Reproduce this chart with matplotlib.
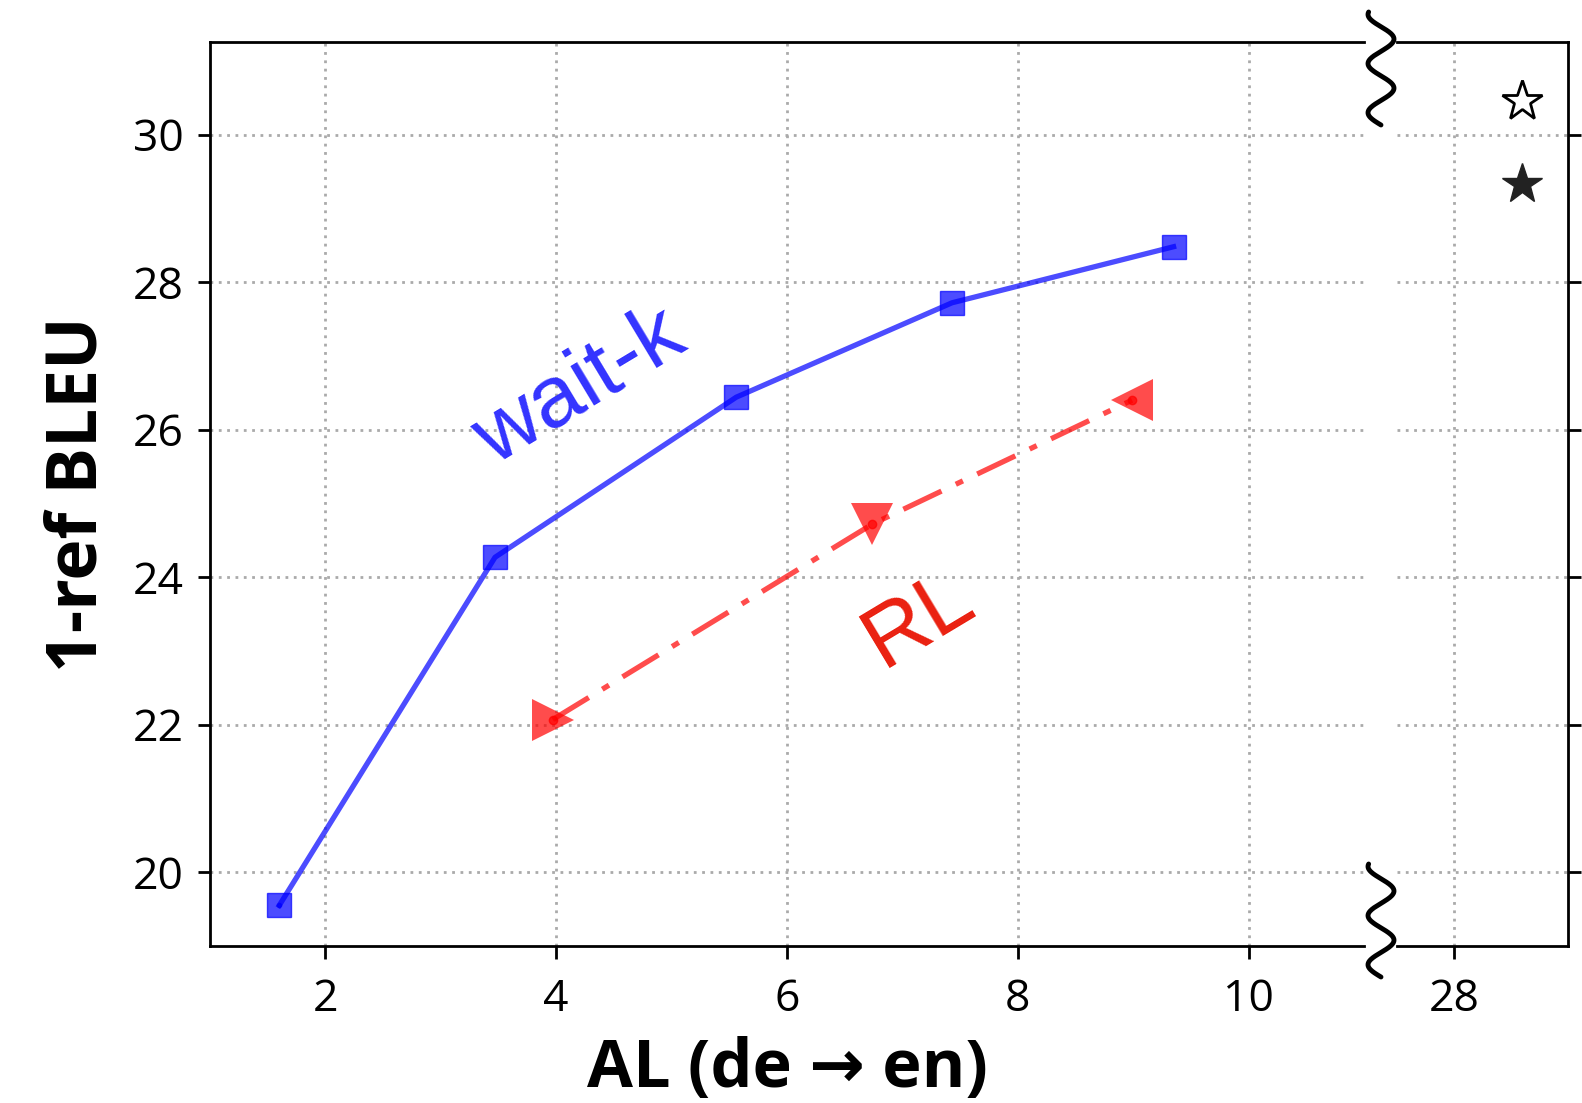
import numpy as np
import matplotlib
matplotlib.use("Agg")
import matplotlib.pyplot as plt
from matplotlib.lines import Line2D

# ---- data ----
waitk_al = [1.60, 3.47, 5.56, 7.43, 9.35]
waitk_bleu = [19.55, 24.27, 26.44, 27.72, 28.48]
rl_al = [3.97, 6.74, 8.99]
rl_bleu = [22.07, 24.72, 26.40]
rl_markers = ['>', 'v', '<']
star_al = [28.6, 28.6]
star_bleu = [30.46, 29.33]
left_xticks = [2, 4, 6, 8, 10]
right_xticks = [28]
yticks = [20, 22, 24, 26, 28, 30]

plt.rcParams['font.family'] = ['Open Sans', 'DejaVu Sans']

W, H = 1582, 1103
fig = plt.figure(figsize=(W / 100, H / 100), dpi=100)

L, R = 210 / W, 1364 / W
L2, R2 = 1397 / W, 1568 / W
B, T = 1 - 946 / H, 1 - 42.4 / H

ax1 = fig.add_axes([L, B, R - L, T - B])
ax2 = fig.add_axes([L2, B, R2 - L2, T - B])

ylim = (19.0, 31.25)
for ax in (ax1, ax2):
    ax.set_ylim(*ylim)
    ax.set_yticks(yticks)
    ax.grid(True, linestyle=(0, (1, 2)), color='#aaaaaa', linewidth=2.0)
    ax.set_axisbelow(True)
    for s in ax.spines.values():
        s.set_linewidth(2.0)
    ax.tick_params(axis='both', length=9, width=2.0, labelsize=32)
    ax.tick_params(axis='x', pad=14)
    ax.tick_params(axis='y', pad=10)

ax1.set_xlim(1.0, 11.0)
ax1.set_xticks(left_xticks)
ax1.spines['right'].set_visible(False)
ax1.tick_params(axis='y', left=True, right=False)

ax2.set_xlim(27.5, 29.0)
ax2.set_xticks(right_xticks)
ax2.spines['left'].set_visible(False)
ax2.yaxis.tick_right()
ax2.tick_params(axis='y', labelright=False, labelleft=False)

# wait-k
ax1.plot(waitk_al, waitk_bleu, color='blue', alpha=0.7, linewidth=3.8,
         marker='s', markersize=17, zorder=3)
ax1.plot(waitk_al[:1], waitk_bleu[:1], color='blue', alpha=0.7, marker='.',
         markersize=6, linestyle='none', zorder=4)

# RL
ax1.plot(rl_al, rl_bleu, color='red', alpha=0.7, linewidth=3.8,
         linestyle=(0, (8, 3, 1.5, 3)), marker='o', markersize=6, zorder=3)
for x, y, m in zip(rl_al, rl_bleu, rl_markers):
    ax1.plot([x], [y], marker=m, markersize=30, color='red', alpha=0.7,
             markeredgewidth=0, linestyle='none', zorder=3)

# stars
ax2.plot(star_al[:1], star_bleu[:1], marker='*', markersize=30,
         markerfacecolor='white', markeredgecolor='black',
         markeredgewidth=2.0, linestyle='none')
ax2.plot(star_al[1:], star_bleu[1:], marker='*', markersize=30,
         color='#222222', linestyle='none')

# labels on curves
ax1.text(4.21, 26.57, 'wait-k', color='#3333ff', fontsize=63,
         family=['Liberation Sans'], rotation=31, ha='center', va='center',
         rotation_mode='anchor')
ax1.text(7.15, 23.42, 'RL', color='#ea2010', fontsize=63,
         family=['Liberation Sans'], rotation=31, ha='center', va='center',
         rotation_mode='anchor')

# axis labels
fig.text(79 / W, 1 - 494 / H, '1-ref BLEU', rotation=90, fontsize=50,
         fontweight='bold', ha='center', va='center')
fig.text((L + R) / 2, 1 - 1069 / H, 'AL (de \u2192 en)', fontsize=48,
         fontweight='bold', ha='center', va='center')

# break squiggles
def squiggle(y_top, y_bot):
    t = np.linspace(0, 1, 200)
    xs = 1381 + 13 * np.sin(2 * np.pi * 2.3 * t - np.pi * 0.6)
    ys = y_top + (y_bot - y_top) * t
    fig.add_artist(Line2D(xs / W, 1 - ys / H, color='black', linewidth=3.5,
                          transform=fig.transFigure, solid_capstyle='round'))

squiggle(12, 125)
squiggle(864, 977)

fig.savefig('out.png', dpi=100)
